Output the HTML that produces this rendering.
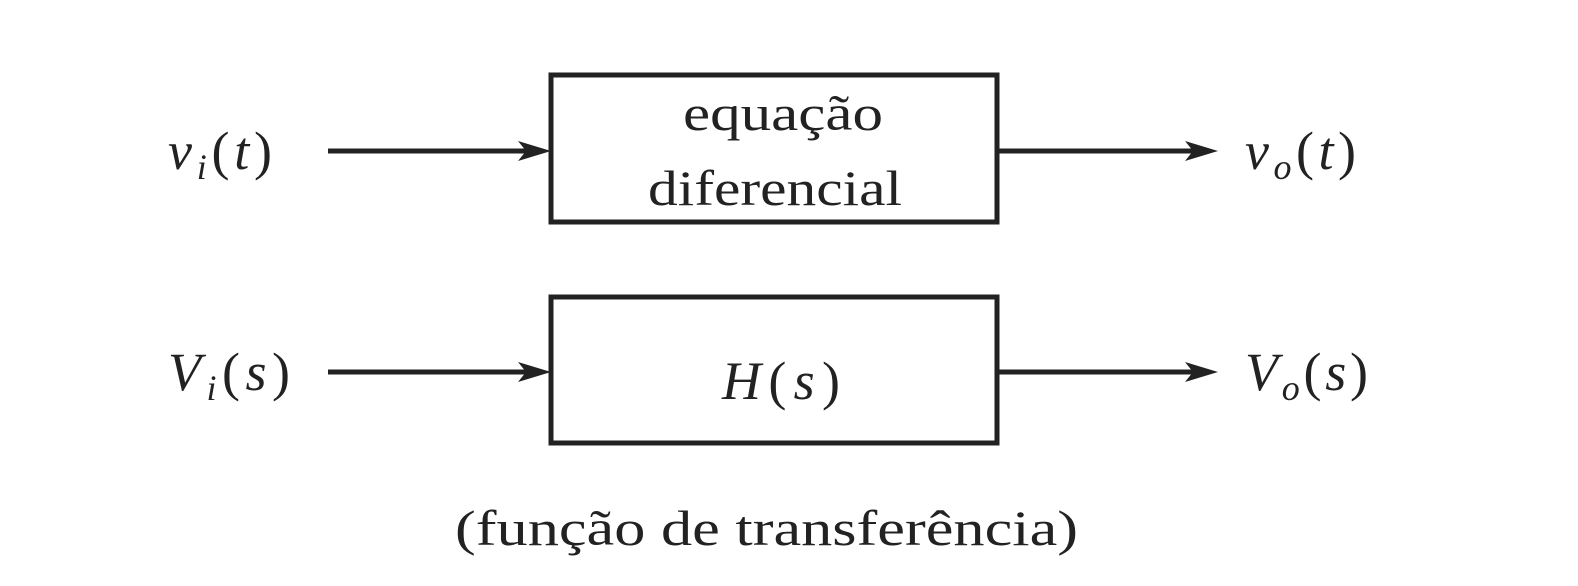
<!DOCTYPE html>
<html><head><meta charset="utf-8"><style>
html,body{margin:0;padding:0;background:#fff;}
svg{display:block}
text{font-family:"Liberation Serif",serif;fill:#222;}
</style></head><body>
<svg width="1578" height="586" viewBox="0 0 1578 586">
<g stroke="#222" stroke-width="5" fill="none">
<rect x="551" y="75" width="446" height="147"/>
<rect x="551" y="297" width="446" height="146"/>
<line x1="328" y1="151" x2="530" y2="151"/>
<line x1="997" y1="151" x2="1198" y2="151"/>
<line x1="328" y1="372" x2="530" y2="372"/>
<line x1="997" y1="372" x2="1198" y2="372"/>
</g>
<g fill="#222">
<path d="M551 151 L518 141 L526 151 L518 161 Z"/>
<path d="M1218 151 L1185 141 L1193 151 L1185 161 Z"/>
<path d="M551 372 L518 362 L526 372 L518 382 Z"/>
<path d="M1218 372 L1185 362 L1193 372 L1185 382 Z"/>
</g>
<text x="168" y="169" font-size="54" font-style="italic" textLength="104" lengthAdjust="spacing">v<tspan font-size="36" dy="10">i</tspan><tspan dy="-10" font-style="normal">(</tspan>t<tspan font-style="normal">)</tspan></text>
<text x="1245" y="169" font-size="54" font-style="italic" textLength="111" lengthAdjust="spacing">v<tspan font-size="36" dy="10">o</tspan><tspan dy="-10" font-style="normal">(</tspan>t<tspan font-style="normal">)</tspan></text>
<text x="168" y="390" font-size="54" font-style="italic" textLength="122" lengthAdjust="spacing">V<tspan font-size="36" dy="10">i</tspan><tspan dy="-10" font-style="normal">(</tspan>s<tspan font-style="normal">)</tspan></text>
<text x="1245" y="390" font-size="54" font-style="italic" textLength="123" lengthAdjust="spacing">V<tspan font-size="36" dy="10">o</tspan><tspan dy="-10" font-style="normal">(</tspan>s<tspan font-style="normal">)</tspan></text>
<text x="683" y="130" font-size="50" textLength="200" lengthAdjust="spacingAndGlyphs">equação</text>
<text x="648" y="205" font-size="50" textLength="254" lengthAdjust="spacingAndGlyphs">diferencial</text>
<text x="722" y="399" font-size="54" font-style="italic" textLength="118" lengthAdjust="spacing">H<tspan font-style="normal">(</tspan>s<tspan font-style="normal">)</tspan></text>
<text x="455" y="545" font-size="50" textLength="623" lengthAdjust="spacingAndGlyphs">(função de transferência)</text>
</svg>
</body></html>
